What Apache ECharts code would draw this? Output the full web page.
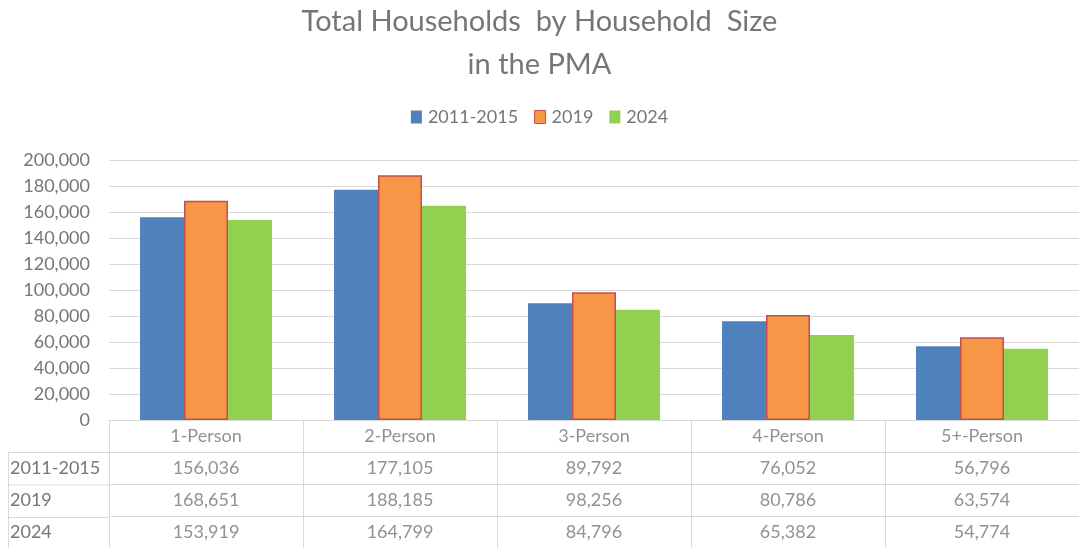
<!DOCTYPE html>
<html>
<head>
<meta charset="utf-8">
<script src="https://cdn.jsdelivr.net/npm/echarts@6/dist/echarts.min.js"></script>
<style>
  html, body { margin: 0; padding: 0; background: #fff; }
  #main { width: 1079px; height: 548px; }
</style>
</head>
<body>
<div id="main"></div>
<script>
// data
var categories = ['1-Person', '2-Person', '3-Person', '4-Person', '5+-Person'];
var seriesNames = ['2011-2015', '2019', '2024'];
var v2011_2015 = [156036, 177105, 89792, 76052, 56796];
var v2019 = [168651, 188185, 98256, 80786, 63574];
var v2024 = [153919, 164799, 84796, 65382, 54774];
var yTicks = [0, 200000, 20000]; // min, max, interval

var allValues = [v2011_2015, v2019, v2024];
var colors = ['#4F81BD', '#F79646', '#92D050'];
var txt = '#767676';
var font = 'Lato';
var fmt = function (n) { return n.toLocaleString('en-US'); };

// table cells: header row (row 0) + one row per series
var tableRows = [''].concat(seriesNames);
var cells = [];
categories.forEach(function (c, i) {
  cells.push({ value: [i, 0], text: c });
});
allValues.forEach(function (arr, r) {
  arr.forEach(function (v, i) {
    cells.push({ value: [i, r + 1], text: fmt(v) });
  });
});

var chart = echarts.init(document.getElementById('main'));

var barSeries = allValues.map(function (arr, k) {
  return {
    name: seriesNames[k],
    type: 'bar',
    xAxisIndex: 0,
    yAxisIndex: 0,
    data: arr,
    barGap: '0%',
    barCategoryGap: '32%',
    itemStyle: k === 1
      ? { color: colors[k], borderColor: '#C0504D', borderWidth: 1.5 }
      : { color: colors[k] }
  };
});

var option = {
  backgroundColor: '#ffffff',
  animation: false,
  textStyle: { fontFamily: font },
  title: {
    text: 'Total Households  by Household  Size\nin the PMA',
    left: 'center',
    top: -5,
    textStyle: { fontFamily: font, fontSize: 29, fontWeight: 'normal', color: txt, lineHeight: 43 }
  },
  legend: {
    top: 103,
    left: 'center',
    itemWidth: 11,
    itemHeight: 13,
    itemGap: 16,
    data: seriesNames.map(function (n, k) {
      return { name: n, icon: 'rect', itemStyle: k === 1 ? { borderColor: '#C0504D', borderWidth: 1 } : {} };
    }),
    textStyle: { fontFamily: font, fontSize: 18, color: txt, padding: [0, 0, 0, 1] }
  },
  grid: [
    { left: 109, right: 0, top: 160, height: 260 },
    { left: 109, right: 0, top: 420, height: 130 }
  ],
  xAxis: [
    {
      type: 'category',
      gridIndex: 0,
      data: categories,
      axisLine: { lineStyle: { color: '#d9d9d9' } },
      axisTick: { show: false },
      axisLabel: { show: false }
    },
    {
      type: 'category',
      gridIndex: 1,
      data: categories,
      axisLine: { show: false },
      axisTick: { show: false },
      axisLabel: { show: false },
      splitLine: { show: true, lineStyle: { color: '#d9d9d9', width: 1 } }
    }
  ],
  yAxis: [
    {
      type: 'value',
      gridIndex: 0,
      min: yTicks[0],
      max: yTicks[1],
      interval: yTicks[2],
      axisLine: { show: false },
      axisTick: { show: false },
      axisLabel: { formatter: fmt, color: txt, fontSize: 18, margin: 19, fontFamily: font },
      splitLine: { lineStyle: { color: '#d9d9d9' } }
    },
    {
      type: 'category',
      gridIndex: 1,
      inverse: true,
      data: tableRows,
      axisLine: { show: false },
      axisTick: { show: false },
      axisLabel: { align: 'left', margin: 99, color: txt, fontSize: 18, fontFamily: font },
      splitLine: { show: true, lineStyle: { color: '#d9d9d9', width: 1 } }
    }
  ],
  graphic: [
    { type: 'line', shape: { x1: 8, y1: 452.5, x2: 109, y2: 452.5 }, style: { stroke: '#d9d9d9', lineWidth: 1 } },
    { type: 'line', shape: { x1: 8, y1: 485, x2: 109, y2: 485 }, style: { stroke: '#d9d9d9', lineWidth: 1 } },
    { type: 'line', shape: { x1: 8, y1: 517.5, x2: 109, y2: 517.5 }, style: { stroke: '#d9d9d9', lineWidth: 1 } },
    { type: 'line', shape: { x1: 8.5, y1: 452, x2: 8.5, y2: 548 }, style: { stroke: '#d9d9d9', lineWidth: 1 } },
    { type: 'line', shape: { x1: 109.5, y1: 420, x2: 109.5, y2: 548 }, style: { stroke: '#d9d9d9', lineWidth: 1 } }
  ],
  series: barSeries.concat([{
    type: 'scatter',
    xAxisIndex: 1,
    yAxisIndex: 1,
    symbolSize: 0,
    silent: true,
    data: cells,
    label: {
      show: true,
      position: 'inside',
      color: txt,
      fontSize: 18,
      fontFamily: font,
      formatter: function (p) { return p.data.text; }
    }
  }])
};

chart.setOption(option);
</script>
</body>
</html>
